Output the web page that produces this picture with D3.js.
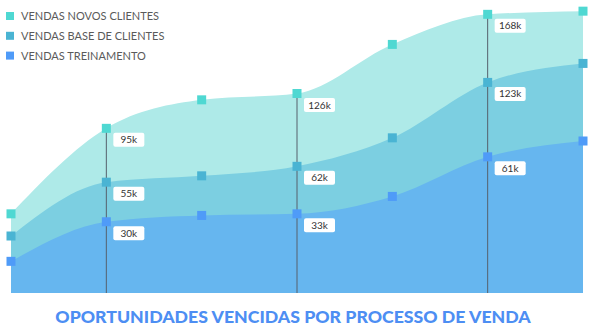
<!DOCTYPE html>
<html>
<head>
<meta charset="utf-8">
<script src="https://cdn.jsdelivr.net/npm/d3@7"></script>
<style>
  body { margin: 0; background: #fff; }
  svg { display: block; font-family: Lato, "Open Sans", sans-serif; }
</style>
</head>
<body>
<div id="chart"></div>
<script>
// seven periods, each series drawn from the baseline (areas overlap, not stacked)
var periods = ['1', '2', '3', '4', '5', '6', '7'];
var novosClientes = [50, 104, 122, 126, 157, 176, 178];
var baseClientes = [36, 70, 74, 80, 98, 133, 145];
var treinamento = [20, 45, 49, 50, 61, 86, 96];

var seriesNames = ['VENDAS NOVOS CLIENTES', 'VENDAS BASE DE CLIENTES', 'VENDAS TREINAMENTO'];
var highlighted = [1, 3, 5];
var novosLabels = ['95k', '126k', '168k'];
var baseLabels = ['55k', '62k', '123k'];
var treinoLabels = ['30k', '33k', '61k'];

var width = 590,
    height = 331,
    baseline = 293;

var areaColors = ['#aeeae8', '#7ccfe1', '#66b6ef'];
var markColors = ['#4fd8d2', '#4ab4d3', '#4f9bf8'];

var series = [novosClientes, baseClientes, treinamento];
var labels = [novosLabels, baseLabels, treinoLabels];

var x = d3.scalePoint().domain(periods).range([11, 583]);
var y = d3.scaleLinear().domain([0, 180]).range([baseline, 8]);

var svg = d3.select('#chart').append('svg')
    .attr('width', width)
    .attr('height', height);

var area = d3.area()
    .x(function(d, i) { return x(periods[i]); })
    .y0(y(0))
    .y1(function(d) { return y(d); })
    .curve(d3.curveMonotoneX);

svg.selectAll('path.area').data(series)
  .enter().append('path')
    .attr('class', 'area')
    .attr('d', area)
    .style('fill', function(d, i) { return areaColors[i]; });

// vertical guide lines from the top point down to the baseline
svg.selectAll('line.guide').data(highlighted)
  .enter().append('line')
    .attr('class', 'guide')
    .attr('x1', function(d) { return x(periods[d]); })
    .attr('x2', function(d) { return x(periods[d]); })
    .attr('y1', function(d) { return y(novosClientes[d]); })
    .attr('y2', y(0))
    .style('stroke', '#56616d')
    .style('stroke-width', 1);

series.forEach(function(s, k) {
  svg.selectAll('rect.mark' + k).data(s)
    .enter().append('rect')
      .attr('class', 'mark' + k)
      .attr('x', function(d, i) { return x(periods[i]) - 4.5; })
      .attr('y', function(d) { return y(d) - 4.5; })
      .attr('width', 9)
      .attr('height', 9)
      .style('fill', markColors[k]);

  var tags = svg.selectAll('g.tag' + k).data(highlighted)
    .enter().append('g')
      .attr('class', 'tag' + k)
      .attr('transform', function(d) {
        return 'translate(' + (x(periods[d]) + 7) + ',' + (y(s[d]) + 4.5) + ')';
      });
  tags.append('rect')
      .attr('width', 31)
      .attr('height', 14)
      .attr('rx', 2)
      .style('fill', '#fff');
  tags.append('text')
      .attr('x', 15.5)
      .attr('y', 10.5)
      .attr('text-anchor', 'middle')
      .style('font-size', '10px')
      .style('fill', '#333')
      .text(function(d, i) { return labels[k][i]; });
});

var legend = svg.selectAll('g.legend').data(seriesNames)
  .enter().append('g')
    .attr('class', 'legend')
    .attr('transform', function(d, i) { return 'translate(6,' + (16 + i * 19.8) + ')'; });
legend.append('rect')
    .attr('y', -4)
    .attr('width', 8)
    .attr('height', 8)
    .style('fill', function(d, i) { return markColors[i]; });
legend.append('text')
    .attr('x', 15)
    .attr('y', 4)
    .style('font-size', '11px')
    .style('fill', '#5a5a5a')
    .text(function(d) { return d; });

svg.append('text')
    .attr('x', 293)
    .attr('y', 323)
    .attr('text-anchor', 'middle')
    .style('font-size', '17.7px')
    .style('font-weight', '900')
    .style('fill', '#4d8ef3')
    .text('OPORTUNIDADES VENCIDAS POR PROCESSO DE VENDA');
</script>
</body>
</html>
